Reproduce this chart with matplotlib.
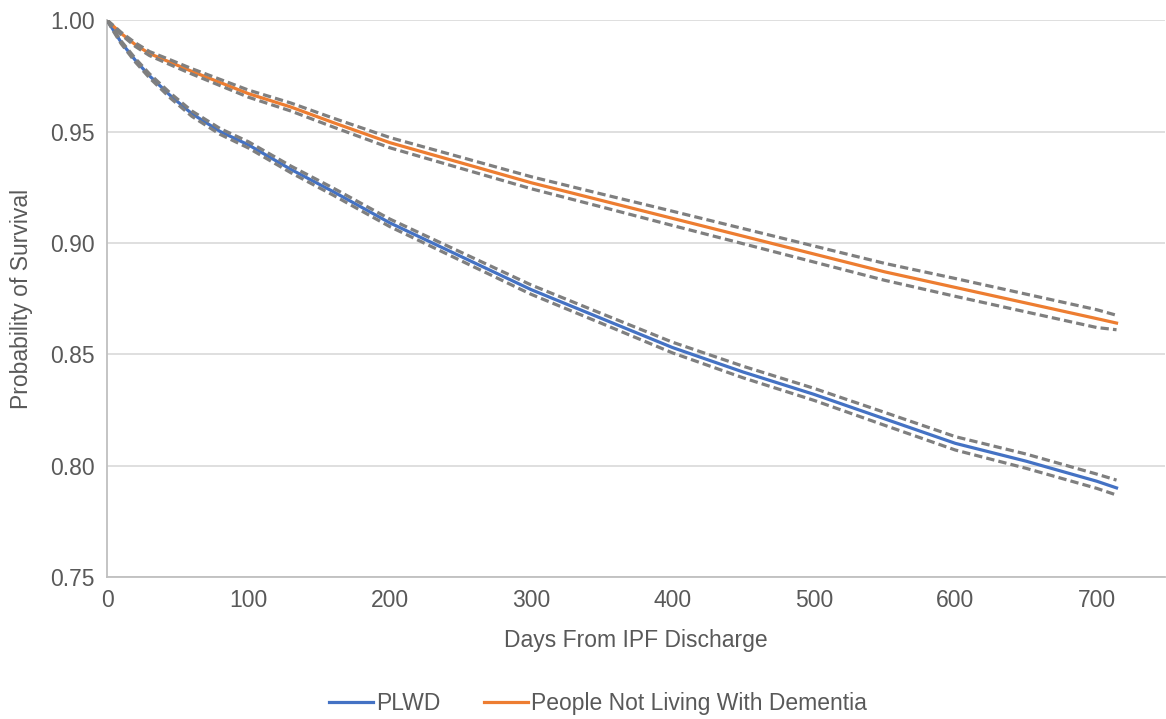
import numpy as np
import matplotlib.pyplot as plt

plt.rcParams['font.family'] = ['Liberation Sans', 'DejaVu Sans']

# days since discharge
days = [0, 5, 10, 20, 30, 45, 60, 80, 100, 130, 160, 200, 250, 300,
        350, 400, 450, 500, 550, 600, 650, 700, 714]

# survival estimates
plwd = [1.000, 0.995, 0.990, 0.982, 0.975, 0.966, 0.958, 0.950, 0.944, 0.933,
        0.923, 0.909, 0.894, 0.879, 0.866, 0.853, 0.842, 0.832, 0.821, 0.810,
        0.802, 0.793, 0.790]
plwd_upper = [1.000, 0.9955, 0.9906, 0.9828, 0.9759, 0.9671, 0.9592, 0.9513, 0.9454,
              0.9345, 0.9246, 0.9107, 0.8959, 0.8811, 0.8682, 0.8554, 0.8446, 0.8347,
              0.8239, 0.8130, 0.8052, 0.7962, 0.7935]
plwd_lower = [1.000, 0.9945, 0.9894, 0.9812, 0.9741, 0.9649, 0.9568, 0.9487, 0.9426,
              0.9315, 0.9214, 0.9073, 0.8921, 0.8769, 0.8638, 0.8506, 0.8394, 0.8293,
              0.8181, 0.8070, 0.7988, 0.7898, 0.7868]

no_dementia = [1.000, 0.997, 0.994, 0.989, 0.985, 0.981, 0.977, 0.972, 0.967, 0.961,
               0.954, 0.945, 0.936, 0.927, 0.919, 0.911, 0.903, 0.895, 0.887, 0.880,
               0.873, 0.866, 0.864]
no_dementia_upper = [1.000, 0.9973, 0.9945, 0.9898, 0.9859, 0.9821, 0.9782, 0.9734, 0.9686,
                     0.9628, 0.9560, 0.9473, 0.9385, 0.9297, 0.9219, 0.9142, 0.9064, 0.8986,
                     0.8908, 0.8840, 0.8770, 0.8700, 0.8675]
no_dementia_lower = [1.000, 0.9967, 0.9935, 0.9882, 0.9841, 0.9799, 0.9758, 0.9706, 0.9654,
                     0.9592, 0.9520, 0.9427, 0.9335, 0.9243, 0.9161, 0.9078, 0.8996, 0.8914,
                     0.8832, 0.8760, 0.8690, 0.8620, 0.8610]

blue = '#4472C4'
orange = '#ED7D31'
grey = '#7F7F7F'
text_col = '#595959'
fs = 16.5

fig = plt.figure(figsize=(11.66, 7.19), dpi=100)
ax = fig.add_axes([0.0918, 0.1975, 0.907, 0.7745])

ax.plot(days, plwd, color=blue, lw=2.3, label='PLWD', zorder=3)
ax.plot(days, no_dementia, color=orange, lw=2.3, label='People Not Living With Dementia', zorder=3)
for ci in [plwd_upper, plwd_lower, no_dementia_upper, no_dementia_lower]:
    ax.plot(days, ci, color=grey, lw=2.3, dashes=(2.6, 1.3), zorder=4)

ax.set_xlim(0, 748)
ax.set_ylim(0.75, 1.0)
ax.set_xticks(np.arange(0, 701, 100))
ax.set_yticks(np.arange(0.75, 1.001, 0.05))
ax.yaxis.set_major_formatter(plt.FuncFormatter(lambda v, p: f'{v:.2f}'))
ax.grid(axis='y', color='#D9D9D9', lw=1.2)
ax.set_axisbelow(True)
for s in ['top', 'right']:
    ax.spines[s].set_visible(False)
for s in ['left', 'bottom']:
    ax.spines[s].set_color('#BFBFBF')
    ax.spines[s].set_linewidth(1.3)
ax.tick_params(length=0, labelsize=fs, colors=text_col, pad=9)

ax.set_xlabel('Days From IPF Discharge', fontsize=fs, color=text_col, labelpad=12)
ax.set_ylabel('Probability of Survival', fontsize=fs, color=text_col, labelpad=12)

fig.legend(loc='center', bbox_to_anchor=(0.513, 0.021), ncol=2, frameon=False,
           fontsize=fs, labelcolor=text_col, handlelength=1.9, handletextpad=0.15,
           columnspacing=1.9)

fig.savefig('out.png', dpi=100)
